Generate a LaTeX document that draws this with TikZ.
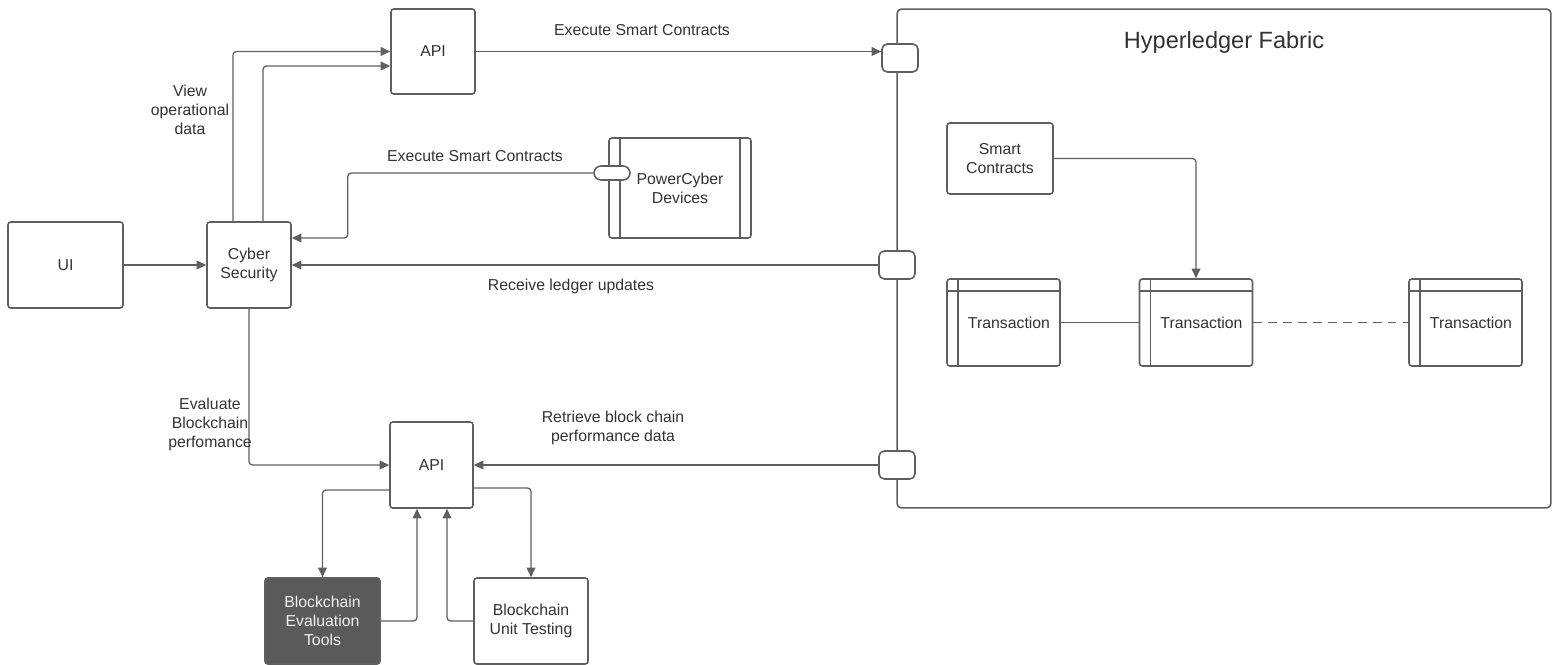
\documentclass[tikz,border=0pt]{standalone}
\usepackage{fontspec}
\setmainfont{Liberation Sans}
\usetikzlibrary{arrows.meta,calc}
\definecolor{edgegray}{HTML}{5F5F5F}
\definecolor{textgray}{HTML}{333333}
\definecolor{toolfill}{HTML}{5A5A5A}

\begin{document}
\begin{tikzpicture}[x=0.02cm,y=-0.02cm,
  font=\fontsize{9}{10.8}\selectfont, text=textgray,
  box/.style={draw=edgegray,line width=0.9pt,rounded corners=1.6pt,fill=white,align=center,inner sep=2pt},
  port/.style={draw=edgegray,line width=0.9pt,rounded corners=3pt,fill=white,inner sep=0pt},
  conn/.style={draw=edgegray,line width=0.75pt,rounded corners=2pt},
  arr/.style={conn,-{Triangle[length=5.5pt,width=5pt]}},
  txn/.style={box,minimum width=2.26cm,minimum height=1.74cm,
    path picture={
      \draw[edgegray,line width=0.9pt] ([xshift=0.22cm]path picture bounding box.north west) -- ([xshift=0.22cm]path picture bounding box.south west);
      \draw[edgegray,line width=0.9pt] ([yshift=-0.24cm]path picture bounding box.north west) -- ([yshift=-0.24cm]path picture bounding box.north east);}},
  device/.style={box,minimum width=2.84cm,minimum height=2cm,
    path picture={
      \draw[edgegray,line width=0.9pt] ([xshift=0.22cm]path picture bounding box.north west) -- ([xshift=0.22cm]path picture bounding box.south west);
      \draw[edgegray,line width=0.9pt] ([xshift=-0.22cm]path picture bounding box.north east) -- ([xshift=-0.22cm]path picture bounding box.south east);}},
  lbl/.style={align=center,inner sep=0pt}]
\useasboundingbox (0,0) rectangle (1559,665);

\node[box,minimum width=2.3cm,minimum height=1.72cm] (ui) at (65.5,265) {UI};
\node[box,minimum width=1.68cm,minimum height=1.72cm] (cyber) at (249,265) {Cyber\\Security};
\node[box,minimum width=1.68cm,minimum height=1.7cm] (api1) at (433,51.5) {API};
\node[device] (devices) at (680,188) {PowerCyber\\Devices};
\node[port,minimum width=0.72cm,minimum height=0.28cm,rounded corners=4pt] (devport) at (612,173) {};
\node[box,minimum width=1.66cm,minimum height=1.72cm] (api2) at (431.5,465) {API};
\node[box,fill=toolfill,draw=edgegray,text=white!88!gray,minimum width=2.3cm,minimum height=1.72cm] (tools) at (322.5,621) {Blockchain\\Evaluation\\Tools};
\node[box,minimum width=2.28cm,minimum height=1.72cm] (unit) at (531,621) {Blockchain\\Unit Testing};

\node[box,rounded corners=2.5pt,minimum width=13.08cm,minimum height=9.98cm] (hlf) at (1224,258.5) {};
\node[lbl,font=\fontsize{13.4}{16}\selectfont] (hlftitle) at (1224,42) {Hyperledger Fabric};
\node[port,minimum width=0.72cm,minimum height=0.56cm] (port1) at (900,58) {};
\node[port,minimum width=0.72cm,minimum height=0.56cm] (port2) at (897,265) {};
\node[port,minimum width=0.72cm,minimum height=0.56cm] (port3) at (897,465) {};
\node[box,minimum width=2.12cm,minimum height=1.42cm] (sc) at (1000,158.5) {Smart\\Contracts};
\node[txn] (t1) at (1003.5,322.5) {\hspace{0.22cm}Transaction};
\node[txn] (t2) at (1196,322.5) {\hspace{0.22cm}Transaction};
\node[txn] (t3) at (1465.5,322.5) {\hspace{0.22cm}Transaction};

\draw[arr] (ui.east) -- (cyber.west);
\draw[arr] ([xshift=-0.32cm]cyber.north) |- (api1.west);
\draw[arr] ([xshift=0.28cm]cyber.north) |- ([yshift=-0.29cm]api1.west);
\draw[arr] (api1.east) -- (api1.east -| port1.west);
\draw[arr] (devport.west) -| ([xshift=1.12cm,yshift=0.54cm]cyber.east) -- ([yshift=0.54cm]cyber.east);
\draw[arr] (port2.west) -- (cyber.east);
\draw[arr] (cyber.south) |- (api2.west);
\draw[arr] (port3.west) -- (api2.east);
\draw[arr] ([yshift=-0.5cm]api2.west) -| (tools.north);
\draw[arr] (tools.east) -| ([xshift=-0.29cm]api2.south);
\draw[arr] (unit.west) -| ([xshift=0.31cm]api2.south);
\draw[arr] ([yshift=-0.46cm]api2.east) -| (unit.north);
\draw[arr] (sc.east) -| (t2.north);
\draw[conn] (t1.east) -- (t2.west);
\draw[conn,dash pattern=on 5pt off 3.5pt] (t2.east) -- (t3.west);

\node[lbl] (lblexec1) at (642,30) {Execute Smart Contracts};
\node[lbl] (lblview) at (190,110) {View\\operational\\data};
\node[lbl] (lblexec2) at (475,156) {Execute Smart Contracts};
\node[lbl] (lblrecv) at (571,286) {Receive ledger updates};
\node[lbl] (lbleval) at (210,424) {Evaluate\\Blockchain\\perfomance};
\node[lbl] (lblretr) at (613,428) {Retrieve block chain\\performance data};
\end{tikzpicture}
\end{document}
